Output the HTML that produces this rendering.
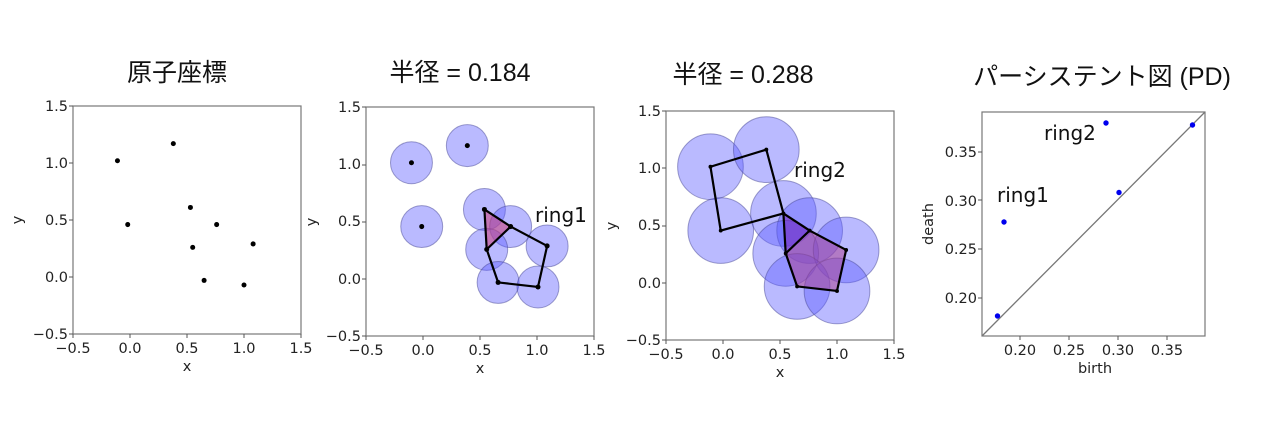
<!DOCTYPE html>
<html><head><meta charset="utf-8"><style>
html,body{margin:0;padding:0;background:#fff;}
svg{display:block;font-family:"DejaVu Sans","Liberation Sans","Noto Sans CJK JP",sans-serif;}
.t{font-size:14.5px;fill:#222;}
.ti{font-size:25px;fill:#111;font-family:"Liberation Sans","Noto Sans CJK JP",sans-serif;}
.rl{font-size:20px;fill:#111;font-family:"DejaVu Sans","Liberation Sans",sans-serif;}
</style></head><body>
<svg width="1279" height="440" viewBox="0 0 1279 440" xmlns="http://www.w3.org/2000/svg">
<defs>
<g id="pts">
<circle cx="-0.11" cy="1.02" r="0.022"/><circle cx="0.38" cy="1.17" r="0.022"/>
<circle cx="-0.02" cy="0.46" r="0.022"/><circle cx="0.53" cy="0.61" r="0.022"/>
<circle cx="0.76" cy="0.46" r="0.022"/><circle cx="0.55" cy="0.26" r="0.022"/>
<circle cx="1.08" cy="0.29" r="0.022"/><circle cx="0.65" cy="-0.03" r="0.022"/>
<circle cx="1.0" cy="-0.07" r="0.022"/>
</g>
</defs>
<rect width="1279" height="440" fill="#fff"/>

<!-- Titles -->
<text class="ti" x="177" y="81" text-anchor="middle">原子座標</text>
<text class="ti" x="460" y="81" text-anchor="middle">半径 = 0.184</text>
<text class="ti" x="743" y="83" text-anchor="middle">半径 = 0.288</text>
<text class="ti" x="1102" y="85" text-anchor="middle">パーシステント図 (PD)</text>

<!-- Panel 1 -->
<g transform="translate(130,277) scale(114,-114)" fill="#000"><use href="#pts"/></g>
<rect x="73" y="106" width="228" height="228" fill="none" stroke="#777" stroke-width="1.2"/>
<g class="t" text-anchor="middle">
<text x="73" y="353">−0.5</text><text x="130" y="353">0.0</text><text x="187" y="353">0.5</text><text x="244" y="353">1.0</text><text x="301" y="353">1.5</text>
<text x="187" y="371">x</text></g>
<g class="t" text-anchor="end">
<text x="68" y="111">1.5</text><text x="68" y="168">1.0</text><text x="68" y="225">0.5</text><text x="68" y="282">0.0</text><text x="68" y="339">−0.5</text></g>
<g stroke="#555" stroke-width="1"><path d="M73 334v4M130 334v4M187 334v4M244 334v4M301 334v4M73 106h-4M73 163h-4M73 220h-4M73 277h-4M73 334h-4"/></g>
<text class="t" x="22" y="220" text-anchor="middle" transform="rotate(-90 22 220)">y</text>

<!-- Panel 2 -->
<g transform="translate(424,279) scale(114,-114)">
<g fill="rgba(90,90,255,0.42)" stroke="rgba(70,70,150,0.5)">
<circle cx="-0.11" cy="1.02" r="0.184" stroke-width="1" vector-effect="non-scaling-stroke"/><circle cx="0.38" cy="1.17" r="0.184" stroke-width="1" vector-effect="non-scaling-stroke"/>
<circle cx="-0.02" cy="0.46" r="0.184" stroke-width="1" vector-effect="non-scaling-stroke"/><circle cx="0.53" cy="0.61" r="0.184" stroke-width="1" vector-effect="non-scaling-stroke"/>
<circle cx="0.76" cy="0.46" r="0.184" stroke-width="1" vector-effect="non-scaling-stroke"/><circle cx="0.55" cy="0.26" r="0.184" stroke-width="1" vector-effect="non-scaling-stroke"/>
<circle cx="1.08" cy="0.29" r="0.184" stroke-width="1" vector-effect="non-scaling-stroke"/><circle cx="0.65" cy="-0.03" r="0.184" stroke-width="1" vector-effect="non-scaling-stroke"/>
<circle cx="1.0" cy="-0.07" r="0.184" stroke-width="1" vector-effect="non-scaling-stroke"/></g>
<polygon points="0.53,0.61 0.55,0.26 0.76,0.46" fill="rgba(200,60,120,0.55)"/>
<polyline points="0.53,0.61 0.55,0.26 0.76,0.46 0.53,0.61" fill="none" stroke="#000" stroke-width="2.2" vector-effect="non-scaling-stroke"/>
<polyline points="0.76,0.46 1.08,0.29 1.0,-0.07 0.65,-0.03 0.55,0.26" fill="none" stroke="#000" stroke-width="2.2" vector-effect="non-scaling-stroke"/>
<g fill="#000"><use href="#pts"/></g>
</g>
<rect x="366" y="107" width="228" height="229" fill="none" stroke="#777" stroke-width="1.2"/>
<text class="rl" x="535" y="222">ring1</text>
<g class="t" text-anchor="middle">
<text x="366" y="355">−0.5</text><text x="423" y="355">0.0</text><text x="480" y="355">0.5</text><text x="537" y="355">1.0</text><text x="594" y="355">1.5</text>
<text x="480" y="373">x</text></g>
<g class="t" text-anchor="end">
<text x="361" y="112">1.5</text><text x="361" y="169">1.0</text><text x="361" y="226">0.5</text><text x="361" y="284">0.0</text><text x="361" y="341">−0.5</text></g>
<g stroke="#555" stroke-width="1"><path d="M366 336v4M423 336v4M480 336v4M537 336v4M594 336v4M366 107h-4M366 165h-4M366 222h-4M366 279h-4M366 336h-4"/></g>
<text class="t" x="316" y="222" text-anchor="middle" transform="rotate(-90 316 222)">y</text>

<!-- Panel 3 -->
<svg x="666" y="111" width="228" height="229" overflow="hidden">
<g transform="translate(57,172) scale(114,-114)">
<g fill="rgba(90,90,255,0.42)" stroke="rgba(70,70,150,0.5)">
<circle cx="-0.11" cy="1.02" r="0.288" stroke-width="1" vector-effect="non-scaling-stroke"/><circle cx="0.38" cy="1.17" r="0.288" stroke-width="1" vector-effect="non-scaling-stroke"/>
<circle cx="-0.02" cy="0.46" r="0.288" stroke-width="1" vector-effect="non-scaling-stroke"/><circle cx="0.53" cy="0.61" r="0.288" stroke-width="1" vector-effect="non-scaling-stroke"/>
<circle cx="0.76" cy="0.46" r="0.288" stroke-width="1" vector-effect="non-scaling-stroke"/><circle cx="0.55" cy="0.26" r="0.288" stroke-width="1" vector-effect="non-scaling-stroke"/>
<circle cx="1.08" cy="0.29" r="0.288" stroke-width="1" vector-effect="non-scaling-stroke"/><circle cx="0.65" cy="-0.03" r="0.288" stroke-width="1" vector-effect="non-scaling-stroke"/>
<circle cx="1.0" cy="-0.07" r="0.288" stroke-width="1" vector-effect="non-scaling-stroke"/></g>
<polygon points="0.53,0.61 0.55,0.26 0.76,0.46" fill="rgba(120,30,180,0.5)"/>
<polygon points="0.55,0.26 0.76,0.46 1.08,0.29 1.0,-0.07 0.65,-0.03" fill="rgba(170,60,140,0.5)"/>
<g fill="none" stroke="#000" stroke-width="2.2">
<polyline points="0.53,0.61 0.55,0.26 0.76,0.46 0.53,0.61" vector-effect="non-scaling-stroke"/>
<polyline points="0.55,0.26 0.65,-0.03 1.0,-0.07 1.08,0.29 0.76,0.46" vector-effect="non-scaling-stroke"/>
<polyline points="0.53,0.61 0.38,1.17 -0.11,1.02 -0.02,0.46 0.53,0.61" vector-effect="non-scaling-stroke"/>
</g>
<g fill="#000"><circle cx="-0.11" cy="1.02" r="0.017"/><circle cx="0.38" cy="1.17" r="0.017"/><circle cx="-0.02" cy="0.46" r="0.017"/><circle cx="0.53" cy="0.61" r="0.017"/><circle cx="0.76" cy="0.46" r="0.017"/><circle cx="0.55" cy="0.26" r="0.017"/><circle cx="1.08" cy="0.29" r="0.017"/><circle cx="0.65" cy="-0.03" r="0.017"/><circle cx="1.0" cy="-0.07" r="0.017"/></g>
</g>
</svg>
<rect x="666" y="111" width="228" height="229" fill="none" stroke="#777" stroke-width="1.2"/>
<text class="rl" x="794" y="177">ring2</text>
<g class="t" text-anchor="middle">
<text x="666" y="359">−0.5</text><text x="723" y="359">0.0</text><text x="780" y="359">0.5</text><text x="837" y="359">1.0</text><text x="894" y="359">1.5</text>
<text x="780" y="377">x</text></g>
<g class="t" text-anchor="end">
<text x="661" y="116">1.5</text><text x="661" y="173">1.0</text><text x="661" y="230">0.5</text><text x="661" y="288">0.0</text><text x="661" y="345">−0.5</text></g>
<g stroke="#555" stroke-width="1"><path d="M666 340v4M723 340v4M780 340v4M837 340v4M894 340v4M666 111h-4M666 168h-4M666 226h-4M666 283h-4M666 340h-4"/></g>
<text class="t" x="616" y="226" text-anchor="middle" transform="rotate(-90 616 226)">y</text>

<!-- Panel 4 PD -->
<line x1="982" y1="336" x2="1205" y2="112" stroke="#777" stroke-width="1.3"/>
<g fill="#0000ee">
<circle cx="997.5" cy="316" r="2.7"/><circle cx="1004" cy="222" r="2.7"/><circle cx="1106" cy="123" r="2.7"/>
<circle cx="1119" cy="192.5" r="2.7"/><circle cx="1192.5" cy="125" r="2.7"/></g>
<rect x="982" y="112" width="223" height="224" fill="none" stroke="#777" stroke-width="1.2"/>
<text class="rl" x="997" y="202">ring1</text>
<text class="rl" x="1044" y="140">ring2</text>
<g class="t" text-anchor="middle">
<text x="1020" y="355">0.20</text><text x="1069" y="355">0.25</text><text x="1118" y="355">0.30</text><text x="1167" y="355">0.35</text>
<text x="1095" y="373">birth</text></g>
<g class="t" text-anchor="end">
<text x="977" y="157">0.35</text><text x="977" y="206">0.30</text><text x="977" y="254">0.25</text><text x="977" y="303">0.20</text></g>
<g stroke="#555" stroke-width="1"><path d="M1020 336v4M1069 336v4M1118 336v4M1167 336v4M982 152h-4M982 200h-4M982 249h-4M982 298h-4"/></g>
<text class="t" x="933" y="224" text-anchor="middle" transform="rotate(-90 933 224)">death</text>
</svg>
</body></html>
